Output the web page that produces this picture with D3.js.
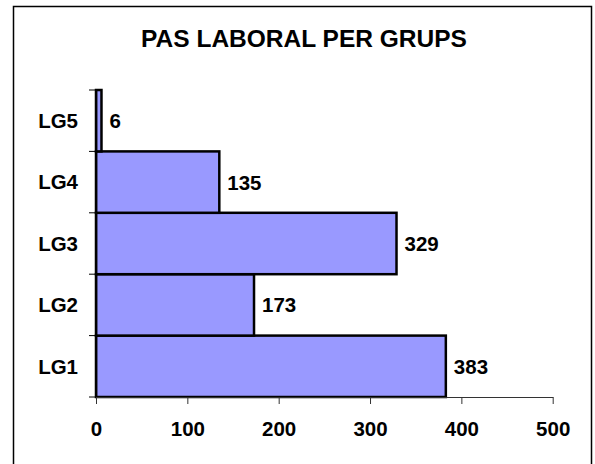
<!DOCTYPE html>
<html>
<head>
<meta charset="utf-8">
<script src="https://cdn.jsdelivr.net/npm/d3@7/dist/d3.min.js"></script>
<style>
  body { margin: 0; background: #fff; }
  text { font-family: Arial, "Liberation Sans", sans-serif; font-weight: bold; fill: #000; }
</style>
</head>
<body>
<div id="chart"></div>
<script>
var categories = ["LG1", "LG2", "LG3", "LG4", "LG5"];
var values = [383, 173, 329, 135, 6];
var xTicks = [0, 100, 200, 300, 400, 500];
var title = "PAS LABORAL PER GRUPS";

var W = 595, H = 464;
var margin = {top: 90, right: 42, bottom: 67, left: 96},
    width = W - margin.left - margin.right,
    height = H - margin.top - margin.bottom;

var data = categories.map(function(c, i) { return {name: c, value: values[i]}; });

var svg = d3.select("#chart").append("svg")
    .attr("width", W)
    .attr("height", H);

// outer frame (bottom edge runs off the picture)
svg.append("rect")
    .attr("x", 13.5).attr("y", 6.5)
    .attr("width", 578).attr("height", 480)
    .attr("fill", "none")
    .attr("stroke", "#000")
    .attr("stroke-width", 1.5);

svg.append("text")
    .attr("x", 304)
    .attr("y", 46.5)
    .attr("text-anchor", "middle")
    .style("font-size", "24.5px")
    .text(title);

var g = svg.append("g")
    .attr("transform", "translate(" + margin.left + "," + margin.top + ")");

var xScale = d3.scaleLinear()
    .domain([0, 500])
    .range([0, 456.7]);

var yScale = d3.scaleBand()
    .domain(categories.slice().reverse())
    .range([0, height])
    .padding(0);

// bars
g.selectAll(".bars")
    .data(data)
  .enter().append("rect")
    .attr("class", "bars")
    .attr("x", xScale(0))
    .attr("y", function(d) { return yScale(d.name); })
    .attr("width", function(d) { return xScale(d.value) - xScale(0); })
    .attr("height", yScale.bandwidth())
    .style("fill", "#9999ff")
    .style("stroke", "#000")
    .style("stroke-width", 2.5);

// value labels
g.selectAll(".vlabel")
    .data(data)
  .enter().append("text")
    .attr("class", "vlabel")
    .attr("x", function(d) { return xScale(d.value) + 8; })
    .attr("y", function(d) { return yScale(d.name) + yScale.bandwidth() / 2 + 7.5; })
    .style("font-size", "20.5px")
    .text(function(d) { return d.value; });

// y axis
var yAxis = g.append("g")
    .attr("class", "axis y--axis")
    .call(d3.axisLeft(yScale).tickSize(0).tickPadding(18));
yAxis.select(".domain").attr("stroke", "#000").attr("stroke-width", 1.5);
yAxis.selectAll(".tick text")
    .style("font-size", "20.5px")
    .attr("dy", "0.36em");

// y tick marks at band boundaries
var bounds = categories.map(function(c) { return yScale(c); }).concat([height]);
g.selectAll(".ytick")
    .data(bounds)
  .enter().append("line")
    .attr("class", "ytick")
    .attr("x1", -7).attr("x2", 0)
    .attr("y1", function(d) { return d; })
    .attr("y2", function(d) { return d; })
    .attr("stroke", "#000")
    .attr("stroke-width", 1);

// x axis
var xAxis = g.append("g")
    .attr("class", "axis x--axis")
    .attr("transform", "translate(0," + height + ")")
    .call(d3.axisBottom(xScale).tickValues(xTicks).tickSize(7).tickSizeOuter(0).tickPadding(17));
xAxis.select(".domain").attr("stroke", "#333").attr("stroke-width", 1);
xAxis.selectAll(".tick line").attr("stroke", "#333");
xAxis.selectAll(".tick text").style("font-size", "20.5px");
</script>
</body>
</html>
